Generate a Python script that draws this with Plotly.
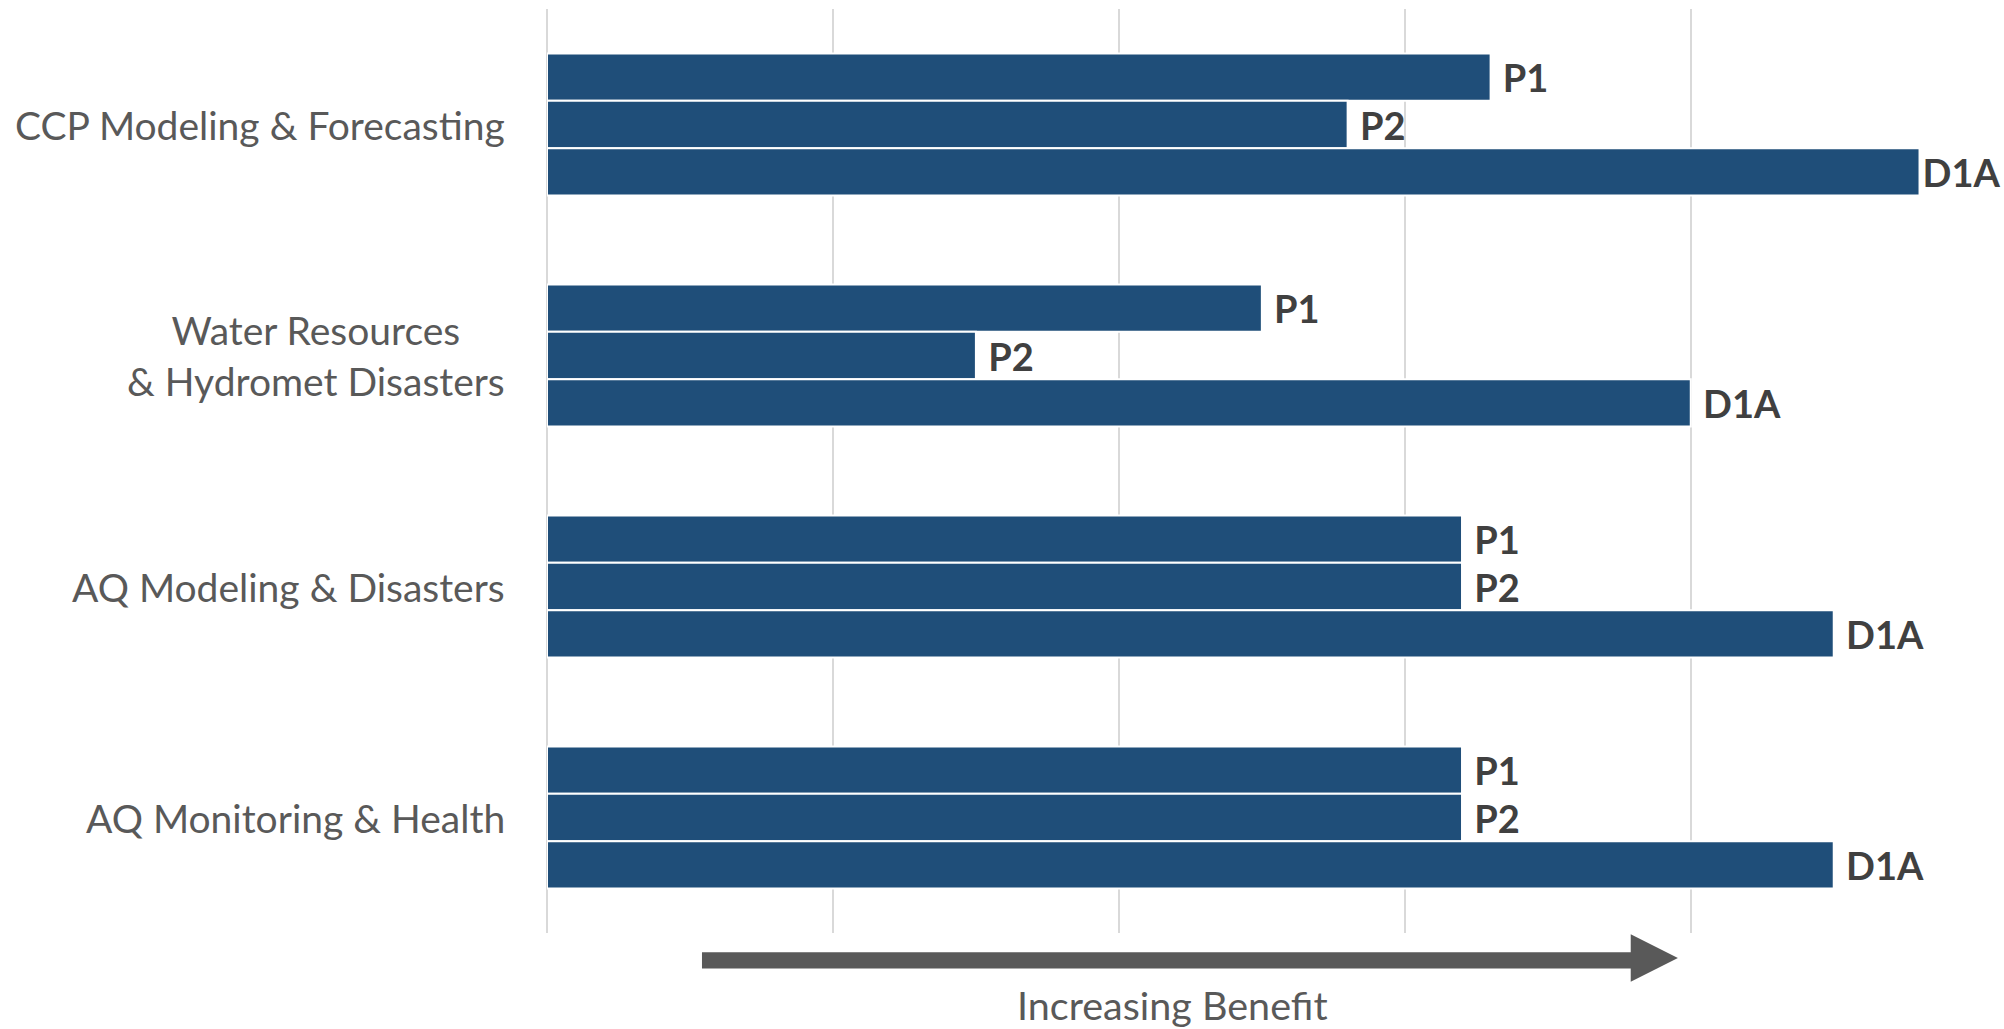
import plotly.graph_objects as go

categories = ["CCP Modeling & Forecasting",
              "Water Resources<br>& Hydromet Disasters",
              "AQ Modeling & Disasters",
              "AQ Monitoring & Health"]
series_names = ["P1", "P2", "D1A"]
p1_values = [3.3, 2.5, 3.2, 3.2]
p2_values = [2.8, 1.5, 3.2, 3.2]
d1a_values = [4.8, 4.0, 4.5, 4.5]
axis_caption = "Increasing Benefit"

BAR_COLOR = "#1F4E79"
LABEL_COLOR = "#595959"
VALUE_COLOR = "#404040"
FONT = "Lato"
X_MAX = 5

fig = go.Figure()
for name, vals in zip(series_names, [p1_values, p2_values, d1a_values]):
    # labels of bars that nearly reach the right edge are tucked closer (as in the original)
    templates = ["%{text}" if v > 0.95 * X_MAX else "\u00a0%{text}" for v in vals]
    fig.add_trace(go.Bar(
        y=categories, x=vals, orientation="h", name=name,
        marker=dict(color=BAR_COLOR, line=dict(color="white", width=2)),
        text=[name] * len(vals),
        texttemplate=templates,
        textposition="outside",
        textfont=dict(family=FONT, size=38, color=VALUE_COLOR, weight="bold"),
        constraintext="none",
        cliponaxis=False,
        showlegend=False,
    ))

# category labels (centered multi-line, right-aligned block)
for cat in categories:
    fig.add_annotation(
        x=0, xref="paper", xanchor="right", xshift=-40,
        y=cat, yref="y", yanchor="middle",
        text=cat, align="center", showarrow=False,
        font=dict(family=FONT, size=39, color=LABEL_COLOR),
    )

# arrow below the axis
x0, x1, x2 = 0.542, 3.79, 3.955
fig.add_shape(
    type="path", xref="x", yref="paper",
    path=(f"M {x0},-0.0209 L {x1},-0.0209 L {x1},-0.0014 L {x2},-0.0271 "
          f"L {x1},-0.0527 L {x1},-0.0383 L {x0},-0.0383 Z"),
    fillcolor="#595959", line=dict(width=0),
)
fig.add_annotation(
    x=2.187, xref="x", y=-0.077, yref="paper", yanchor="middle",
    text=axis_caption, showarrow=False,
    font=dict(family=FONT, size=39.5, color=LABEL_COLOR),
)

fig.update_layout(
    width=2004, height=1029,
    margin=dict(l=547, r=27, t=9, b=96),
    paper_bgcolor="white", plot_bgcolor="white",
    barmode="group", bargap=0.385, bargroupgap=0,
    xaxis=dict(range=[0, X_MAX + 0.001], dtick=1, showgrid=True, gridcolor="#D9D9D9",
               gridwidth=1.5, zeroline=True, zerolinecolor="#D9D9D9",
               zerolinewidth=1.5, showticklabels=False, showline=False, fixedrange=True),
    yaxis=dict(autorange="reversed", showticklabels=False, showgrid=False,
               showline=False, zeroline=False),
    font=dict(family=FONT),
)

fig.write_html("out.html")
